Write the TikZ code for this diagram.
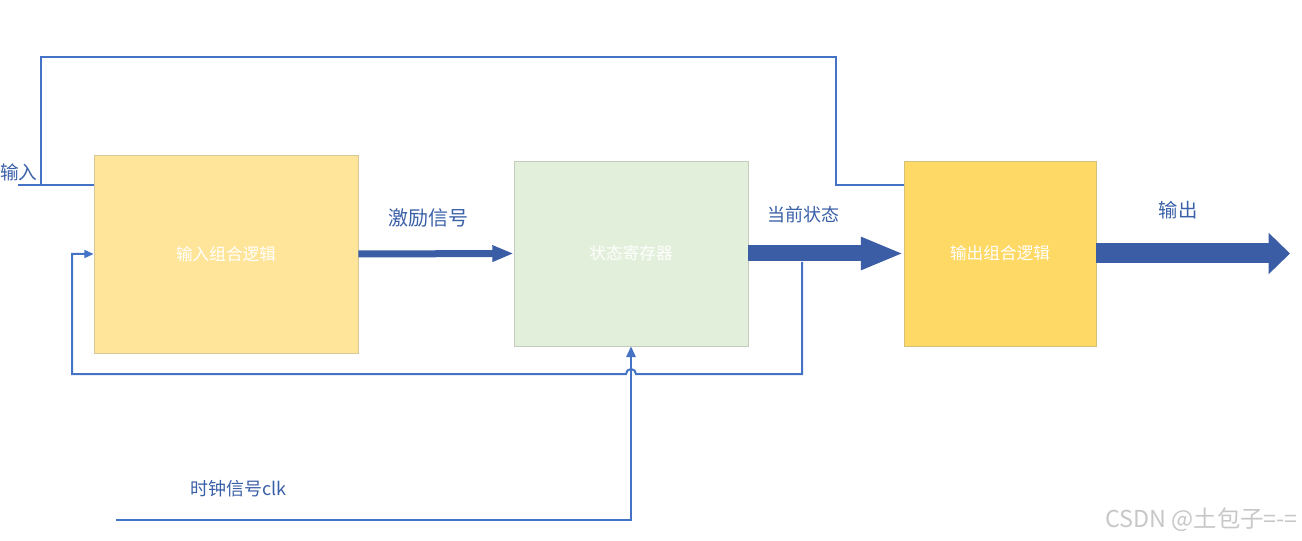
\documentclass[tikz,border=0pt]{standalone}
\usepackage{fontspec}
\newfontfamily\cjk{Noto Sans CJK SC}
\usetikzlibrary{arrows.meta}
\definecolor{wire}{RGB}{68,114,196}
\definecolor{bus}{RGB}{59,93,166}
\definecolor{lbl}{RGB}{58,96,168}
\definecolor{inlogic}{RGB}{255,229,153}
\definecolor{inedge}{RGB}{214,200,150}
\definecolor{regfill}{RGB}{226,239,218}
\definecolor{regedge}{RGB}{196,204,190}
\definecolor{outlogic}{RGB}{255,217,102}
\definecolor{outedge}{RGB}{212,192,120}
\tikzset{
  block/.style={draw, line width=0.6pt, inner sep=0pt, text=white, font=\cjk\fontsize{12.5}{14}\selectfont},
  wireline/.style={draw=wire, line width=1.5pt},
  tag/.style={text=lbl, font=\cjk\fontsize{14}{16}\selectfont, inner sep=0pt},
}
\begin{document}
\begin{tikzpicture}[x=0.75pt,y=-0.75pt]
\path[use as bounding box] (0,0) rectangle (1302,541);

% the three blocks
\node[block, fill=inlogic, draw=inedge, minimum width=198pt, minimum height=148.5pt] (inl) at (226,254) {输入组合逻辑};
\node[block, fill=regfill, draw=regedge, minimum width=175.5pt, minimum height=138.75pt] (reg) at (631,253.5) {状态寄存器};
\node[block, fill=outlogic, draw=outedge, minimum width=144pt, minimum height=138.75pt] (outl) at (1000,253.5) {输出组合逻辑};

% free ends and corners of the wires
\coordinate (inp) at (18,185);
\coordinate (split) at (41,185);
\coordinate (outend) at (1290,253.5);
\coordinate (fb) at (802,262);
\coordinate (clk) at (116,520);

% input wire, with the branch over the top to the output logic
\draw[wireline] (inp) -- (inl.west |- inp);
\draw[wireline] (split) -- (41,57) -- (836,57) -- (836,185) -- (outl.west |- 0,185);

% buses
\draw[bus, line width=5.25pt, -{Triangle[length=16pt,width=11.5pt]}] (inl.east) -- (reg.west);
\draw[bus, line width=12pt, -{Triangle[length=32pt,width=22.5pt]}] (reg.east) -- (outl.west);
\draw[bus, line width=15pt, -{Triangle[length=16pt,width=30pt]}] (outl.east) -- (outend);

% state feedback, hopping over the clock wire
\draw[wireline, -{Triangle[length=7pt,width=6pt]}] (fb) -- (802,374) -- (636,374) arc[start angle=0, end angle=-180, radius=5] -- (72,374) -- (72,254) -- (inl.west);

% clock
\draw[wireline, -{Triangle[length=8pt,width=7pt]}] (clk) -- (631,520) -- (reg.south);

% labels
\node[tag, anchor=west] (tin) at (0,172) {输入};
\node[tag, font=\cjk\fontsize{15}{17}\selectfont] (texc) at (428,218) {激励信号};
\node[tag, font=\cjk\fontsize{13.5}{16}\selectfont] (tcur) at (803,215) {当前状态};
\node[tag, font=\cjk\fontsize{14.5}{16}\selectfont] (tout) at (1178,210) {输出};
\node[tag, font=\cjk\fontsize{13.5}{16}\selectfont, anchor=west] (tclk) at (190,489) {时钟信号clk};

% watermark
\node[text=black!22, font=\cjk\fontsize{17.5}{19}\selectfont, anchor=east, inner sep=0pt] (wm) at (1298,520) {CSDN @土包子=-=};
\end{tikzpicture}
\end{document}
